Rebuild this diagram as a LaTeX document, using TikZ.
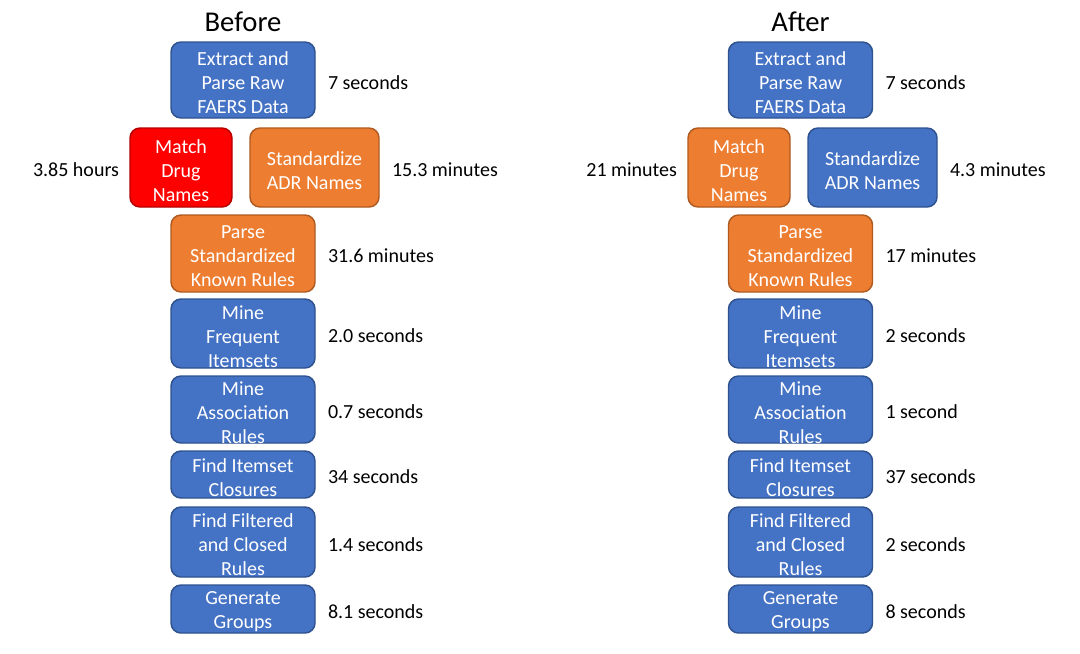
\documentclass[tikz,border=0pt]{standalone}
\usepackage{fontspec}
\setmainfont{Carlito}
\definecolor{bfill}{HTML}{4472C4}
\definecolor{bdraw}{HTML}{2F528F}
\definecolor{ofill}{HTML}{ED7D31}
\definecolor{odraw}{HTML}{AE5A21}
\definecolor{rfill}{HTML}{FF0000}
\definecolor{rdraw}{HTML}{B50000}
\newcommand{\stepbx}[7]{%
  \node[#2, sz={#3}{#4}] (#1) at (#5,#6) {};
  \node[boxtext] (#1t) at ([yshift=-2.25pt]#1.center) {#7};}
\begin{document}
\begin{tikzpicture}[x=0.75pt,y=-0.75pt,
  box/.style={rounded corners=7.5pt, line width=1.1pt, inner sep=0pt},
  boxtext/.style={text=white, align=center, inner sep=0pt, font=\fontsize{15}{18}\selectfont},
  bluebox/.style={box, fill=bfill, draw=bdraw},
  orangebox/.style={box, fill=ofill, draw=odraw},
  redbox/.style={box, fill=rfill, draw=rdraw},
  sz/.style 2 args={minimum width=#1*0.75pt, minimum height=#2*0.75pt},
  lbl/.style={inner sep=0pt, font=\fontsize{15}{18}\selectfont, text=black},
  ttl/.style={inner sep=0pt, font=\fontsize{21.5}{25}\selectfont, text=black}]
\useasboundingbox (0,0) rectangle (1080,653);
\fill[white] (0,0) rectangle (1080,653);

% ---------- Before ----------
\node[ttl] (tb) at (243,22) {Before};
\stepbx{b1}{bluebox}{144}{76}{243}{80}{Extract and\\Parse Raw\\FAERS Data}
\stepbx{b2a}{redbox}{102}{79}{181}{167.5}{Match\\Drug\\Names}
\stepbx{b2b}{orangebox}{129}{79}{314.5}{167.5}{Standardize\\ADR Names}
\stepbx{b3}{orangebox}{144}{77}{243}{253.5}{Parse\\Standardized\\Known Rules}
\stepbx{b4}{bluebox}{144}{69}{243}{333.5}{Mine\\Frequent\\Itemsets}
\stepbx{b5}{bluebox}{144}{67}{243}{409.5}{Mine\\Association\\Rules}
\stepbx{b6}{bluebox}{144}{47}{243}{474.5}{Find Itemset\\Closures}
\stepbx{b7}{bluebox}{144}{70}{243}{542}{Find Filtered\\and Closed\\Rules}
\stepbx{b8}{bluebox}{144}{48}{243}{609}{Generate\\Groups}

\node[lbl, anchor=west] (lb1) at ([xshift=9pt,yshift=-1.8pt]b1.east) {7 seconds};
\node[lbl, anchor=east] (lb2a) at ([xshift=-7.5pt,yshift=-1.8pt]b2a.west) {3.85 hours};
\node[lbl, anchor=west] (lb2b) at ([xshift=9pt,yshift=-1.8pt]b2b.east) {15.3 minutes};
\node[lbl, anchor=west] (lb3) at ([xshift=9pt,yshift=-1.8pt]b3.east) {31.6 minutes};
\node[lbl, anchor=west] (lb4) at ([xshift=9pt,yshift=-1.8pt]b4.east) {2.0 seconds};
\node[lbl, anchor=west] (lb5) at ([xshift=9pt,yshift=-1.8pt]b5.east) {0.7 seconds};
\node[lbl, anchor=west] (lb6) at ([xshift=9pt,yshift=-1.8pt]b6.east) {34 seconds};
\node[lbl, anchor=west] (lb7) at ([xshift=9pt,yshift=-1.8pt]b7.east) {1.4 seconds};
\node[lbl, anchor=west] (lb8) at ([xshift=9pt,yshift=-1.8pt]b8.east) {8.1 seconds};

% ---------- After ----------
\node[ttl] (ta) at (800.5,22) {After};
\stepbx{a1}{bluebox}{144}{76}{800.5}{80}{Extract and\\Parse Raw\\FAERS Data}
\stepbx{a2a}{orangebox}{102}{79}{739}{167.5}{Match\\Drug\\Names}
\stepbx{a2b}{bluebox}{129}{79}{872.5}{167.5}{Standardize\\ADR Names}
\stepbx{a3}{orangebox}{144}{77}{800.5}{253.5}{Parse\\Standardized\\Known Rules}
\stepbx{a4}{bluebox}{144}{69}{800.5}{333.5}{Mine\\Frequent\\Itemsets}
\stepbx{a5}{bluebox}{144}{67}{800.5}{409.5}{Mine\\Association\\Rules}
\stepbx{a6}{bluebox}{144}{47}{800.5}{474.5}{Find Itemset\\Closures}
\stepbx{a7}{bluebox}{144}{70}{800.5}{542}{Find Filtered\\and Closed\\Rules}
\stepbx{a8}{bluebox}{144}{48}{800.5}{609}{Generate\\Groups}

\node[lbl, anchor=west] (la1) at ([xshift=9pt,yshift=-1.8pt]a1.east) {7 seconds};
\node[lbl, anchor=east] (la2a) at ([xshift=-7.5pt,yshift=-1.8pt]a2a.west) {21 minutes};
\node[lbl, anchor=west] (la2b) at ([xshift=9pt,yshift=-1.8pt]a2b.east) {4.3 minutes};
\node[lbl, anchor=west] (la3) at ([xshift=9pt,yshift=-1.8pt]a3.east) {17 minutes};
\node[lbl, anchor=west] (la4) at ([xshift=9pt,yshift=-1.8pt]a4.east) {2 seconds};
\node[lbl, anchor=west] (la5) at ([xshift=9pt,yshift=-1.8pt]a5.east) {1 second};
\node[lbl, anchor=west] (la6) at ([xshift=9pt,yshift=-1.8pt]a6.east) {37 seconds};
\node[lbl, anchor=west] (la7) at ([xshift=9pt,yshift=-1.8pt]a7.east) {2 seconds};
\node[lbl, anchor=west] (la8) at ([xshift=9pt,yshift=-1.8pt]a8.east) {8 seconds};
\end{tikzpicture}
\end{document}
